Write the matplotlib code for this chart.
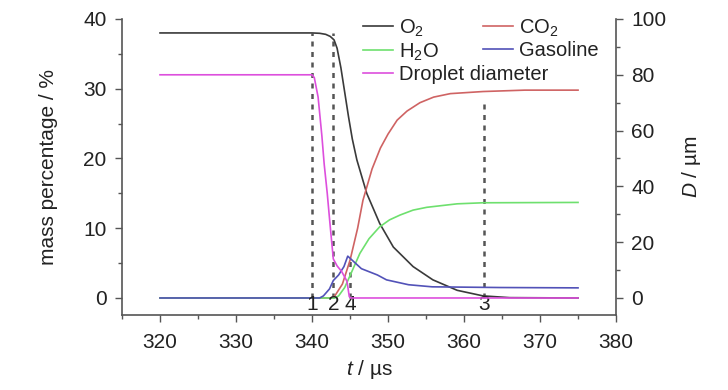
import matplotlib.pyplot as plt
from matplotlib.ticker import MultipleLocator

plt.rcParams['font.family'] = ['Liberation Sans', 'DejaVu Sans']
plt.rcParams['mathtext.fontset'] = 'custom'
plt.rcParams['mathtext.rm'] = 'Liberation Sans'
plt.rcParams['mathtext.it'] = 'Liberation Sans:italic'

# O2
t_o2 = [320, 340, 341, 341.8, 342.4, 342.9, 343.3, 343.8, 344.3, 344.8, 345.3, 345.9, 347.2, 348.9,
        350.7, 353.3, 355.9, 359.1, 362.5, 366, 375]
o2 = [38, 38, 37.95, 37.8, 37.5, 37.0, 35.8, 33.0, 29.5, 26.0, 22.8, 19.8, 15.0, 10.7,
      7.3, 4.5, 2.6, 1.1, 0.3, 0.05, 0]

# CO2
t_co2 = [320, 342.5, 343, 344, 345, 346, 346.7, 347.9, 349, 350, 351.2, 352.5, 354.2,
         356, 358.2, 362.5, 368, 375]
co2 = [0, 0, 0.3, 2, 5.4, 10, 14, 18.5, 21.5, 23.5, 25.5, 26.8, 28.0,
       28.8, 29.3, 29.6, 29.8, 29.8]

# H2O
t_h2o = [320, 343, 343.5, 344.3, 345, 346.3, 347.5, 348.9, 350.2, 351.6, 353.3, 355.1,
         359.1, 362.5, 375]
h2o = [0, 0, 0.3, 1.5, 3.2, 6.4, 8.5, 10.2, 11.2, 11.9, 12.6, 13.0,
       13.5, 13.65, 13.7]

# Gasoline
t_gas = [320, 341, 341.5, 342.3, 342.8, 343.5, 344.2, 344.7, 345.2, 346.5, 348.6, 349.8,
         352.7, 355.8, 364.7, 375]
gas = [0, 0, 0.3, 1.3, 2.5, 3.3, 4.5, 6.0, 5.5, 4.2, 3.3, 2.6,
       1.9, 1.6, 1.5, 1.45]

# Droplet diameter (um, right axis)
t_d = [320, 340, 340.3, 340.8, 341.3, 341.6, 342.0, 342.4, 342.8, 343.3, 343.9, 344.6,
       344.9, 345.1, 375]
diam = [80, 80, 79, 72, 58, 48, 37.6, 25.5, 14, 11.5, 9.5, 6, 0.5, 0, 0]

# marker lines: time, top value (mass %), label
mark_t = [340, 342.8, 345, 362.6]
mark_top = [38, 38, 6, 28.5]
mark_lab = ['1', '2', '4', '3']

fig = plt.figure(figsize=(7.28, 3.9), dpi=100)
ax = fig.add_axes([0.1676, 0.1923, 0.6786, 0.759])
ax2 = ax.twinx()

spine_c = '#555555'
txt_c = '#222222'
for tt, top in zip(mark_t, mark_top):
    ax.plot([tt, tt], [0, top], color='#555555', lw=1.8, ls=(0, (2, 2.2)), zorder=1)

l1, = ax.plot(t_o2, o2, color='#3a3a3a', lw=1.2)
l2, = ax.plot(t_co2, co2, color='#cf6363', lw=1.2)
l3, = ax.plot(t_h2o, h2o, color='#6ee06e', lw=1.2)
l4, = ax.plot(t_gas, gas, color='#5252b8', lw=1.2)
l5, = ax2.plot(t_d, diam, color='#dd4fdd', lw=1.2)

for tt, lab in zip(mark_t, mark_lab):
    ax.text(tt, -2.3, lab, ha='center', va='bottom', fontsize=15, color=txt_c)

ax.set_xlim(315, 380)
ax.set_ylim(-2.44, 40)
ax2.set_ylim(-6.1, 100)

ax.xaxis.set_major_locator(MultipleLocator(10))
ax.xaxis.set_minor_locator(MultipleLocator(5))
ax.yaxis.set_major_locator(MultipleLocator(10))
ax.yaxis.set_minor_locator(MultipleLocator(5))
ax2.yaxis.set_major_locator(MultipleLocator(20))
ax2.yaxis.set_minor_locator(MultipleLocator(10))

for a in (ax, ax2):
    a.spines['top'].set_visible(False)
    for s in a.spines.values():
        s.set_color(spine_c)
        s.set_linewidth(1.2)
    a.tick_params(which='both', direction='out', color=spine_c, width=1.0,
                  labelsize=15, labelcolor=txt_c, pad=6)
    a.tick_params(which='major', length=5)
    a.tick_params(which='minor', length=3)
ax.tick_params(axis='x', pad=8)
ax.spines['right'].set_visible(False)
ax2.spines['left'].set_visible(False)
ax2.spines['bottom'].set_visible(False)

ax.set_xlabel('$t$ / µs', fontsize=15, color=txt_c, labelpad=4)
ax.set_ylabel('mass percentage / %', fontsize=15, color=txt_c, labelpad=18)
ax2.set_ylabel('$D$ / µm', fontsize=15, color=txt_c, labelpad=10)

leg_kw = dict(loc='upper left', fontsize=14.5, frameon=False, handlelength=1.5,
              handletextpad=0.3, labelspacing=0.12, borderpad=0, borderaxespad=0)
leg1 = ax2.legend([l1, l3, l5], ['O$_2$', 'H$_2$O', 'Droplet diameter'],
                  bbox_to_anchor=(0.487, 1.005), **leg_kw)
ax2.add_artist(leg1)
leg2 = ax2.legend([l2, l4], ['CO$_2$', 'Gasoline'],
                  bbox_to_anchor=(0.73, 1.005), **leg_kw)
for lg in (leg1, leg2):
    for txt in lg.get_texts():
        txt.set_color(txt_c)

fig.savefig('out.png', dpi=100)
